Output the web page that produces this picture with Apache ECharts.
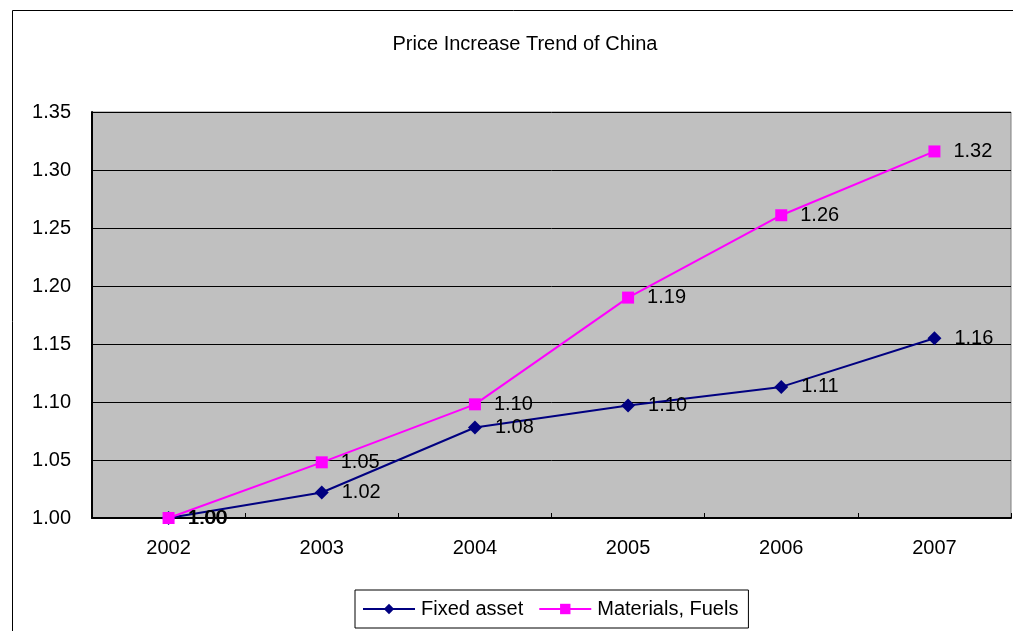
<!DOCTYPE html>
<html><head><meta charset="utf-8">
<script src="https://cdn.jsdelivr.net/npm/echarts@6/dist/echarts.min.js"></script>
<style>html,body{margin:0;padding:0;background:#fff}#c{width:1013px;height:631px}</style>
</head><body><div id="c"></div>
<script>
const years = ['2002','2003','2004','2005','2006','2007'];
const fixedAsset = [1.00, 1.022, 1.078, 1.097, 1.113, 1.155];
const materialsFuels = [1.00, 1.048, 1.098, 1.190, 1.261, 1.316];
const yTicks = {min: 1.00, max: 1.35, interval: 0.05};

const chart = echarts.init(document.getElementById('c'));
const font = 'Liberation Sans, Arial, sans-serif';
const lbl = {show: true, position: 'right', distance: 13, color: '#000', fontSize: 20, fontFamily: font,
  formatter: p => p.value.toFixed(2)};
chart.setOption({
  animation: false,
  graphic: [{type: 'rect', shape: {x: 12.5, y: 10.5, width: 1100, height: 700},
    style: {fill: 'none', stroke: '#000', lineWidth: 1}, z: -10}],
  title: {text: 'Price Increase Trend of China', left: 520, textAlign: 'center', top: 29,
    textStyle: {fontFamily: font, fontWeight: 'normal', fontSize: 20, color: '#000'}},
  grid: {left: 92, right: 2, top: 112, bottom: 113, show: true, backgroundColor: '#C0C0C0',
    borderColor: '#808080', borderWidth: 1},
  legend: {top: 590, left: 355, itemWidth: 52, itemHeight: 13, itemGap: 15,
    borderColor: '#000', borderWidth: 1, padding: [9, 10, 9, 7],
    textStyle: {fontFamily: font, fontSize: 20, color: '#000', padding: [0, 0, 0, 1]},
    data: ['Fixed asset', 'Materials, Fuels']},
  xAxis: {type: 'category', data: years, boundaryGap: true,
    axisLine: {lineStyle: {color: '#000', width: 2}},
    axisTick: {show: true, inside: true, length: 5, lineStyle: {color: '#000'}},
    axisLabel: {color: '#000', fontSize: 20, fontFamily: font, margin: 20}},
  yAxis: {type: 'value', min: yTicks.min, max: yTicks.max, interval: yTicks.interval,
    axisLine: {show: true, lineStyle: {color: '#000', width: 2}},
    axisTick: {show: true, inside: true, length: 5, lineStyle: {color: '#000'}},
    splitLine: {lineStyle: {color: '#000', width: 1}},
    axisLabel: {color: '#000', fontSize: 20, fontFamily: font, margin: 21,
      formatter: v => v.toFixed(2)}},
  series: [
    {name: 'Fixed asset', type: 'line', data: fixedAsset, symbol: 'diamond', symbolSize: 14,
      color: '#000080', lineStyle: {width: 2, color: '#000080'}, label: lbl},
    {name: 'Materials, Fuels', type: 'line', data: materialsFuels, symbol: 'rect', symbolSize: 12,
      color: '#FF00FF', lineStyle: {width: 2, color: '#FF00FF'}, label: lbl}
  ]
});
</script></body></html>
